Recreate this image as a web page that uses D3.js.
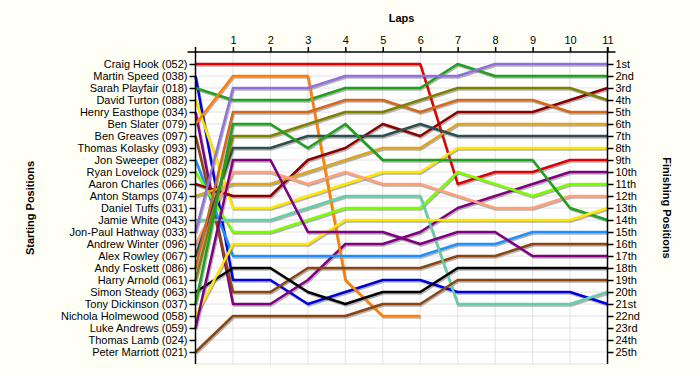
<!DOCTYPE html>
<html>
<head>
<meta charset="utf-8">
<script src="https://cdn.jsdelivr.net/npm/d3@7"></script>
<style>
  body { margin: 0; background: #fffff5; }
  text { font-family: "Liberation Sans", Arial, sans-serif; font-size: 11px; fill: #000; }
  .title { font-weight: bold; }
  .grid line { stroke: #e2e2e2; stroke-width: 1; }
  .axis path, .axis line { stroke: #000; stroke-width: 1.5; }
</style>
</head>
<body>
<script>
const drivers = [
  "Craig Hook (052)", "Martin Speed (038)", "Sarah Playfair (018)", "David Turton (088)",
  "Henry Easthope (034)", "Ben Slater (079)", "Ben Greaves (097)", "Thomas Kolasky (093)",
  "Jon Sweeper (082)", "Ryan Lovelock (029)", "Aaron Charles (066)", "Anton Stamps (074)",
  "Daniel Tuffs (031)", "Jamie White (043)", "Jon-Paul Hathway (033)", "Andrew Winter (096)",
  "Alex Rowley (067)", "Andy Foskett (086)", "Harry Arnold (061)", "Simon Steady (063)",
  "Tony Dickinson (037)", "Nichola Holmewood (058)", "Luke Andrews (059)", "Thomas Lamb (024)",
  "Peter Marriott (021)"
];

const laps = d3.range(0, 12);

// position of each driver at lap 0..11 (start = lap 0)
const lapPositions = [
  [1, 1, 1, 1, 1, 1, 1, 11, 10, 10, 9, 9],
  [2, 19, 19, 21, 20, 19, 19, 20, 20, 20, 20, 21],
  [3, 4, 4, 4, 3, 3, 3, 1, 2, 2, 2, 2],
  [4, 13, 13, 12, 11, 10, 10, 8, 8, 8, 8, 8],
  [5, 21, 21, 19, 16, 16, 15, 13, 12, 11, 10, 10],
  [6, 2, 2, 2, 19, 22, 22],
  [7, 20, 20, 18, 18, 18, 18, 17, 17, 16, 16, 16],
  [8],
  [9, 17, 17, 17, 17, 17, 17, 16, 16, 15, 15, 15],
  [10, 15, 15, 14, 13, 13, 13, 10, 11, 12, 11, 11],
  [11, 12, 12, 9, 8, 6, 7, 5, 5, 5, 4, 3],
  [12, 11, 11, 10, 9, 8, 8, 6, 6, 6, 6, 6],
  [13],
  [14, 14, 14, 13, 12, 12, 12, 21, 21, 21, 21, 20],
  [15, 3, 3, 3, 2, 2, 2, 2, 1, 1, 1, 1],
  [16, 10, 10, 11, 10, 11, 11, 12, 13, 13, 12, 12],
  [17, 8, 8, 7, 7, 7, 6, 7, 7, 7, 7, 7],
  [18, 5, 5, 5, 4, 4, 5, 4, 4, 4, 5, 5],
  [19, 7, 7, 6, 5, 5, 4, 3, 3, 3, 3, 4],
  [20, 18, 18, 20, 21, 20, 20, 18, 18, 18, 18, 18],
  [21, 6, 6, 8, 6, 9, 9, 9, 9, 9, 13, 14],
  [22, 16, 16, 16, 14, 14, 14, 14, 14, 14, 14, 13],
  [23, 9, 9, 15, 15, 15, 16, 15, 15, 17, 17, 17],
  [24],
  [25, 22, 22, 22, 22, 21, 21, 19, 19, 19, 19, 19]
];

const finishLabels = [
  "1st", "2nd", "3rd", "4th", "5th", "6th", "7th", "8th", "9th", "10th",
  "11th", "12th", "13th", "14th", "15th", "16th", "17th", "18th", "19th", "20th",
  "21st", "22nd", "23rd", "24th", "25th"
];

const palette = [
  "#e00000", "#0000dd", "#1fa01f", "#ffe800", "#800080", "#ff8000", "#8b4513", "#999999",
  "#1e90ff", "#7cfc00", "#8b0000", "#daa520", "#999999", "#66cdaa", "#9370db", "#ffa07a",
  "#2f4f4f", "#d2691e", "#808000", "#000000", "#1fa01f", "#ffe800", "#800080", "#999999",
  "#8b4513"
];

const width = 700;
const height = 375;

const svg = d3.select("body").append("svg")
  .attr("width", width)
  .attr("height", height);

const x = d3.scaleLinear().domain([0, 11]).range([195.5, 607.5]);
const y = d3.scaleLinear().domain([0, 26]).range([52, 364]);

// plot background
svg.append("rect")
  .attr("x", x(0)).attr("y", y(0))
  .attr("width", x(11) - x(0)).attr("height", y(26) - y(0))
  .attr("fill", "#ffffff");

// grid
const grid = svg.append("g").attr("class", "grid");
grid.selectAll(".v").data(d3.range(1, 11)).join("line")
  .attr("x1", d => x(d)).attr("x2", d => x(d))
  .attr("y1", y(0)).attr("y2", y(26));
grid.selectAll(".h").data(d3.range(1, 27)).join("line")
  .attr("x1", x(0)).attr("x2", x(11))
  .attr("y1", d => y(d)).attr("y2", d => y(d));

// driver lines
const line = d3.line()
  .x((d, i) => x(i))
  .y(d => y(d));

const tracks = lapPositions.map((p, i) => ({ id: i, pos: p })).filter(d => d.pos.length > 1);

svg.append("g").selectAll("path").data(tracks).join("path")
  .attr("d", d => line(d.pos))
  .attr("transform", "translate(1,1.5)")
  .attr("fill", "none")
  .attr("stroke", "#777")
  .attr("stroke-opacity", 0.55)
  .attr("stroke-width", 2.5)
  .attr("stroke-linejoin", "round");

svg.append("g").selectAll("path").data(tracks).join("path")
  .attr("d", d => line(d.pos))
  .attr("fill", "none")
  .attr("stroke", d => palette[d.id])
  .attr("stroke-width", 2.5)
  .attr("stroke-linejoin", "round");

// axes
svg.append("g")
  .attr("class", "axis")
  .attr("transform", `translate(${x(0)},0)`)
  .call(d3.axisLeft(y).tickValues(d3.range(1, 26)).tickFormat(i => drivers[i - 1]).tickSize(6).tickSizeOuter(0).tickPadding(2))
  .call(g => g.select(".domain").remove());

svg.append("g")
  .attr("class", "axis")
  .attr("transform", `translate(${x(11)},0)`)
  .call(d3.axisRight(y).tickValues(d3.range(1, 26)).tickFormat(i => finishLabels[i - 1]).tickSize(6).tickSizeOuter(0).tickPadding(2))
  .call(g => g.select(".domain").remove());

svg.append("g")
  .attr("class", "axis")
  .attr("transform", `translate(0,${y(0)})`)
  .call(d3.axisTop(x).tickValues(d3.range(1, 12)).tickSize(5).tickSizeOuter(0).tickPadding(3))
  .call(g => g.select(".domain").remove());

svg.selectAll("g.axis text").style("font-family", "'Liberation Sans', Arial, sans-serif").style("font-size", "11px").attr("fill", "#000");

const frame = svg.append("g").attr("stroke", "#000").attr("stroke-width", 1.5);
frame.append("line").attr("x1", x(0) - 8).attr("x2", x(11) + 8).attr("y1", y(0)).attr("y2", y(0));
frame.append("line").attr("x1", x(0)).attr("x2", x(0)).attr("y1", y(0) - 5).attr("y2", y(26));
frame.append("line").attr("x1", x(11)).attr("x2", x(11)).attr("y1", y(0) - 5).attr("y2", y(26));

// titles
svg.append("text").attr("class", "title")
  .attr("x", (x(0) + x(11)) / 2).attr("y", 22)
  .attr("text-anchor", "middle")
  .text("Laps");

svg.append("text").attr("class", "title")
  .attr("transform", `translate(34,${y(13)}) rotate(-90)`)
  .attr("text-anchor", "middle")
  .text("Starting Positions");

svg.append("text").attr("class", "title")
  .attr("transform", `translate(663,${y(13)}) rotate(90)`)
  .attr("text-anchor", "middle")
  .text("Finishing Positions");
</script>
</body>
</html>
